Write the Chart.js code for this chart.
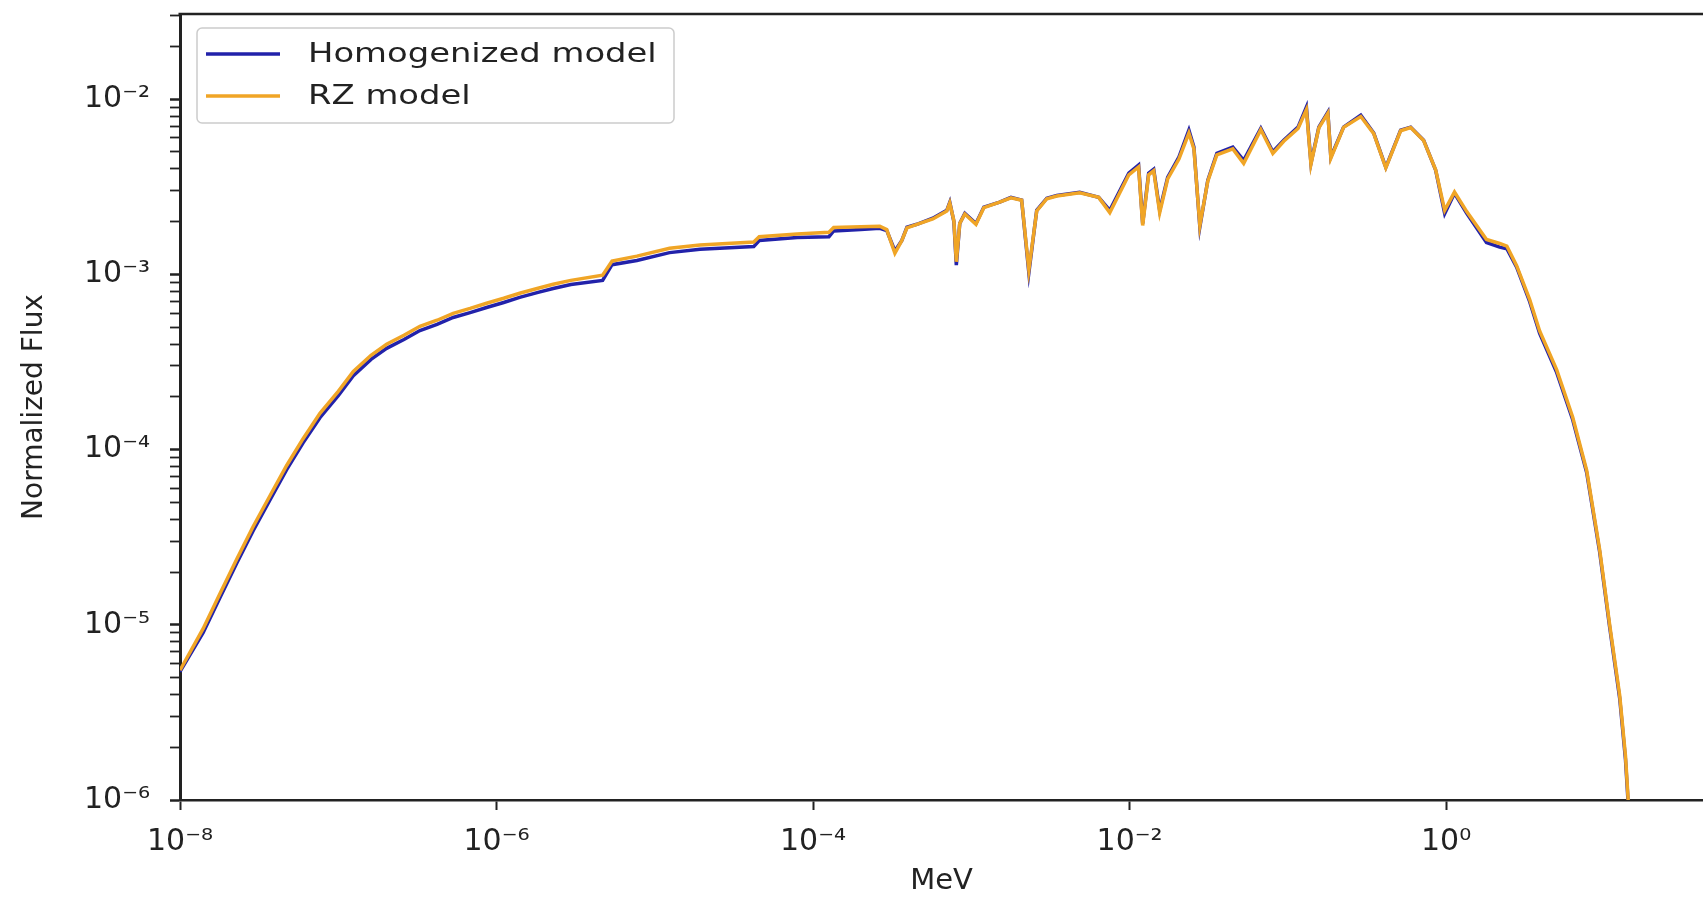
<!DOCTYPE html>
<html>
<head>
<meta charset="utf-8">
<title>Normalized Flux vs Energy</title>
<script src="https://cdn.jsdelivr.net/npm/chart.js@4.4.1/dist/chart.umd.min.js"></script>
<style>
  html, body { margin: 0; padding: 0; background: #ffffff; overflow: hidden; }
  #wrap { position: relative; width: 1703px; height: 899px; }
</style>
</head>
<body>
<div id="wrap"><canvas id="fluxChart"></canvas></div>
<script>
// Energy grid (MeV) shared by both spectra
const energyMeV = [
  1.00e-8, 1.40e-8, 1.79e-8, 2.29e-8, 2.90e-8, 3.71e-8, 4.72e-8, 5.98e-8, 7.66e-8, 1.00e-7,
  1.245e-7, 1.61e-7, 2.02e-7, 2.60e-7, 3.28e-7, 4.21e-7, 5.32e-7, 6.81e-7, 8.65e-7, 1.11e-6,
  1.40e-6, 1.83e-6, 2.28e-6, 2.95e-6, 4.68e-6, 5.37e-6, 7.71e-6, 1.24e-5, 1.93e-5, 4.22e-5,
  4.57e-5, 7.94e-5, 1.26e-4, 1.35e-4, 2.00e-4, 2.64e-4, 2.92e-4, 3.29e-4, 3.64e-4, 3.92e-4,
  4.53e-4, 5.71e-4, 7.00e-4, 7.31e-4, 7.76e-4, 8.04e-4, 8.45e-4, 9.10e-4, 1.07e-3, 1.20e-3,
  1.51e-3, 1.78e-3, 2.08e-3, 2.31e-3, 2.59e-3, 3.00e-3, 3.47e-3, 4.84e-3, 6.38e-3, 7.50e-3,
  9.89e-3, 1.14e-2, 1.21e-2, 1.32e-2, 1.42e-2, 1.55e-2, 1.74e-2, 2.05e-2, 2.37e-2, 2.55e-2,
  2.78e-2, 3.12e-2, 3.56e-2, 4.49e-2, 5.26e-2, 6.75e-2, 8.04e-2, 9.42e-2, 0.116, 0.131,
  0.140, 0.157, 0.179, 0.187, 0.225, 0.289, 0.349, 0.416, 0.516, 0.597,
  0.721, 0.859, 0.98, 1.13, 1.35, 1.80, 2.18, 2.42, 2.79, 3.37,
  3.90, 5.00, 6.31, 7.73, 9.33, 10.8, 12.5, 13.6, 14.1, 14.6
];

// Homogenized model flux
const homogenizedFlux = [
  5.40e-6, 9.00e-6, 1.43e-5, 2.26e-5, 3.44e-5, 5.18e-5, 7.68e-5, 1.09e-4, 1.52e-4, 2.03e-4,
  2.64e-4, 3.27e-4, 3.78e-4, 4.25e-4, 4.78e-4, 5.18e-4, 5.67e-4, 6.05e-4, 6.47e-4, 6.91e-4,
  7.39e-4, 7.89e-4, 8.30e-4, 8.75e-4, 9.23e-4, 1.135e-3, 1.20e-3, 1.33e-3, 1.39e-3, 1.44e-3,
  1.56e-3, 1.62e-3, 1.64e-3, 1.77e-3, 1.80e-3, 1.83e-3, 1.78e-3, 1.36e-3, 1.56e-3, 1.86e-3,
  1.93e-3, 2.09e-3, 2.32e-3, 2.58e-3, 2.00e-3, 1.13e-3, 1.95e-3, 2.23e-3, 1.95e-3, 2.42e-3,
  2.58e-3, 2.75e-3, 2.65e-3, 1.02e-3, 2.32e-3, 2.72e-3, 2.82e-3, 2.94e-3, 2.75e-3, 2.32e-3,
  3.78e-3, 4.20e-3, 1.95e-3, 3.78e-3, 3.98e-3, 2.32e-3, 3.58e-3, 4.67e-3, 6.65e-3, 5.32e-3,
  1.86e-3, 3.44e-3, 4.91e-3, 5.32e-3, 4.47e-3, 6.82e-3, 5.01e-3, 5.83e-3, 6.92e-3, 9.00e-3,
  4.31e-3, 6.92e-3, 8.43e-3, 4.67e-3, 6.92e-3, 8.11e-3, 6.40e-3, 4.08e-3, 6.65e-3, 6.92e-3,
  5.83e-3, 3.93e-3, 2.22e-3, 2.90e-3, 2.23e-3, 1.52e-3, 1.43e-3, 1.40e-3, 1.10e-3, 7.00e-4,
  4.60e-4, 2.75e-4, 1.48e-4, 7.40e-5, 2.62e-5, 9.70e-6, 3.80e-6, 1.70e-6, 1.00e-6, 5.00e-7
];

// RZ model flux
const rzFlux = [
  5.50e-6, 9.50e-6, 1.51e-5, 2.38e-5, 3.64e-5, 5.47e-5, 8.11e-5, 1.15e-4, 1.61e-4, 2.15e-4,
  2.79e-4, 3.45e-4, 3.99e-4, 4.49e-4, 5.05e-4, 5.47e-4, 5.99e-4, 6.39e-4, 6.84e-4, 7.30e-4,
  7.80e-4, 8.33e-4, 8.77e-4, 9.24e-4, 9.89e-4, 1.19e-3, 1.27e-3, 1.41e-3, 1.47e-3, 1.53e-3,
  1.64e-3, 1.70e-3, 1.74e-3, 1.85e-3, 1.87e-3, 1.88e-3, 1.80e-3, 1.32e-3, 1.56e-3, 1.84e-3,
  1.93e-3, 2.07e-3, 2.30e-3, 2.55e-3, 2.02e-3, 1.18e-3, 1.95e-3, 2.21e-3, 1.93e-3, 2.40e-3,
  2.58e-3, 2.73e-3, 2.65e-3, 1.06e-3, 2.30e-3, 2.70e-3, 2.80e-3, 2.92e-3, 2.75e-3, 2.25e-3,
  3.70e-3, 4.10e-3, 1.90e-3, 3.70e-3, 3.90e-3, 2.25e-3, 3.50e-3, 4.55e-3, 6.40e-3, 5.20e-3,
  1.90e-3, 3.40e-3, 4.80e-3, 5.20e-3, 4.30e-3, 6.70e-3, 4.90e-3, 5.75e-3, 6.80e-3, 8.70e-3,
  4.25e-3, 6.85e-3, 8.30e-3, 4.60e-3, 6.90e-3, 7.95e-3, 6.35e-3, 4.05e-3, 6.60e-3, 6.88e-3,
  5.80e-3, 3.95e-3, 2.32e-3, 2.95e-3, 2.28e-3, 1.58e-3, 1.50e-3, 1.45e-3, 1.12e-3, 7.20e-4,
  4.75e-4, 2.85e-4, 1.53e-4, 7.60e-5, 2.70e-5, 1.00e-5, 3.95e-6, 1.78e-6, 1.05e-6, 5.30e-7
];

// Axis ranges and tick decades
const xRange = [1e-8, 42];
const yRange = [1e-6, 0.0306];
const xTickExponents = [-8, -6, -4, -2, 0];
const yTickExponents = [-6, -5, -4, -3, -2];
const yMinorMultipliers = [2, 3, 4, 5, 6, 7, 8, 9];

const FONT = 'DejaVu Sans';
const INK = '#222222';
const SUP = { '-': '\u207B', '0': '\u2070', '1': '\u00B9', '2': '\u00B2', '3': '\u00B3',
              '4': '\u2074', '5': '\u2075', '6': '\u2076', '7': '\u2077', '8': '\u2078', '9': '\u2079' };

function powerLabel(v) {
  const e = Math.round(Math.log10(v));
  if (Math.abs(v / Math.pow(10, e) - 1) > 1e-6) return '';
  return '10' + String(e).split('').map(c => SUP[c]).join('');
}

// Frame line along the top of the plot area
const topFrame = {
  id: 'topFrame',
  afterDraw(chart) {
    const { ctx, chartArea: a } = chart;
    ctx.save();
    ctx.strokeStyle = INK;
    ctx.lineWidth = 2.5;
    ctx.beginPath();
    ctx.moveTo(a.left - 1.5, a.top);
    ctx.lineTo(a.right, a.top);
    ctx.stroke();
    ctx.restore();
  }
};

// Boxed legend in the upper-left corner of the plot area
const boxLegend = {
  id: 'boxLegend',
  afterDatasetsDraw(chart, args, opts) {
    const { ctx, chartArea: a } = chart;
    const x0 = a.left + opts.offsetX, y0 = a.top + opts.offsetY;
    const w = opts.width, h = opts.height, r = 5;
    ctx.save();
    ctx.beginPath();
    ctx.moveTo(x0 + r, y0);
    ctx.arcTo(x0 + w, y0, x0 + w, y0 + h, r);
    ctx.arcTo(x0 + w, y0 + h, x0, y0 + h, r);
    ctx.arcTo(x0, y0 + h, x0, y0, r);
    ctx.arcTo(x0, y0, x0 + w, y0, r);
    ctx.closePath();
    ctx.fillStyle = 'rgba(255,255,255,0.85)';
    ctx.fill();
    ctx.strokeStyle = '#cccccc';
    ctx.lineWidth = 1.5;
    ctx.stroke();
    chart.data.datasets.forEach((ds, i) => {
      const cy = y0 + opts.firstRow + i * opts.rowGap;
      ctx.strokeStyle = ds.borderColor;
      ctx.lineWidth = 3.5;
      ctx.beginPath();
      ctx.moveTo(x0 + 9, cy);
      ctx.lineTo(x0 + 83, cy);
      ctx.stroke();
      ctx.save();
      ctx.translate(x0 + 111, cy);
      ctx.scale(opts.stretch, 1);
      ctx.fillStyle = INK;
      ctx.font = opts.fontSize + 'px "' + FONT + '"';
      ctx.textAlign = 'left';
      ctx.textBaseline = 'middle';
      ctx.fillText(ds.label, 0, 1);
      ctx.restore();
    });
    ctx.restore();
  }
};

new Chart(document.getElementById('fluxChart'), {
  type: 'line',
  data: {
    labels: energyMeV,
    datasets: [
      {
        label: 'Homogenized model',
        data: energyMeV.map((e, i) => ({ x: e, y: homogenizedFlux[i] })),
        borderColor: '#2222aa',
        borderWidth: 3.5,
        pointRadius: 0,
        tension: 0,
        fill: false,
        order: 1
      },
      {
        label: 'RZ model',
        data: energyMeV.map((e, i) => ({ x: e, y: rzFlux[i] })),
        borderColor: '#f0a526',
        borderWidth: 3.5,
        pointRadius: 0,
        tension: 0,
        fill: false,
        order: 0
      }
    ]
  },
  options: {
    responsive: true,
    maintainAspectRatio: false,
    devicePixelRatio: 1,
    animation: false,
    layout: { padding: { left: 0, right: 0, top: 14, bottom: 0 } },
    plugins: {
      legend: { display: false },
      tooltip: { enabled: false },
      boxLegend: { offsetX: 17, offsetY: 14, width: 477, height: 95, firstRow: 26, rowGap: 42, fontSize: 26, stretch: 1.3 }
    },
    scales: {
      x: {
        type: 'logarithmic',
        min: xRange[0],
        max: xRange[1],
        afterBuildTicks: s => { s.ticks = xTickExponents.map(e => ({ value: Math.pow(10, e), major: true })); },
        afterFit: s => { s.height = 99; s.paddingLeft = 0; s.paddingRight = 0; },
        ticks: {
          autoSkip: false, maxRotation: 0, minRotation: 0, padding: 14, color: INK,
          font: { family: FONT, size: 30 },
          callback: v => powerLabel(v)
        },
        grid: { display: true, drawOnChartArea: false, drawTicks: true, tickLength: 10, tickColor: INK, tickWidth: 2 },
        border: { display: true, color: INK, width: 2.5 },
        title: { display: true, text: 'MeV', color: INK, font: { family: FONT, size: 29 }, padding: { top: 0, bottom: 0 } }
      },
      y: {
        type: 'logarithmic',
        min: yRange[0],
        max: yRange[1],
        afterBuildTicks: s => {
          const t = [];
          yTickExponents.forEach(e => {
            const base = Math.pow(10, e);
            t.push({ value: base, major: true });
            yMinorMultipliers.forEach(m => { if (m * base <= yRange[1]) t.push({ value: m * base, major: false }); });
          });
          s.ticks = t;
        },
        afterFit: s => { s.width = 180; s.paddingTop = 0; s.paddingBottom = 0; },
        ticks: {
          autoSkip: false, padding: 20, color: INK,
          font: { family: FONT, size: 30 },
          callback: v => powerLabel(v)
        },
        grid: {
          display: true, drawOnChartArea: false, drawTicks: true, tickLength: 10, tickColor: INK,
          tickWidth: c => (c.tick && c.tick.major ? 2.5 : 1.8)
        },
        border: { display: true, color: INK, width: 3 },
        title: { display: true, text: 'Normalized Flux', color: INK, font: { family: FONT, size: 28 }, padding: { top: 18, bottom: 0 } }
      }
    }
  },
  plugins: [topFrame, boxLegend]
});
</script>
</body>
</html>
